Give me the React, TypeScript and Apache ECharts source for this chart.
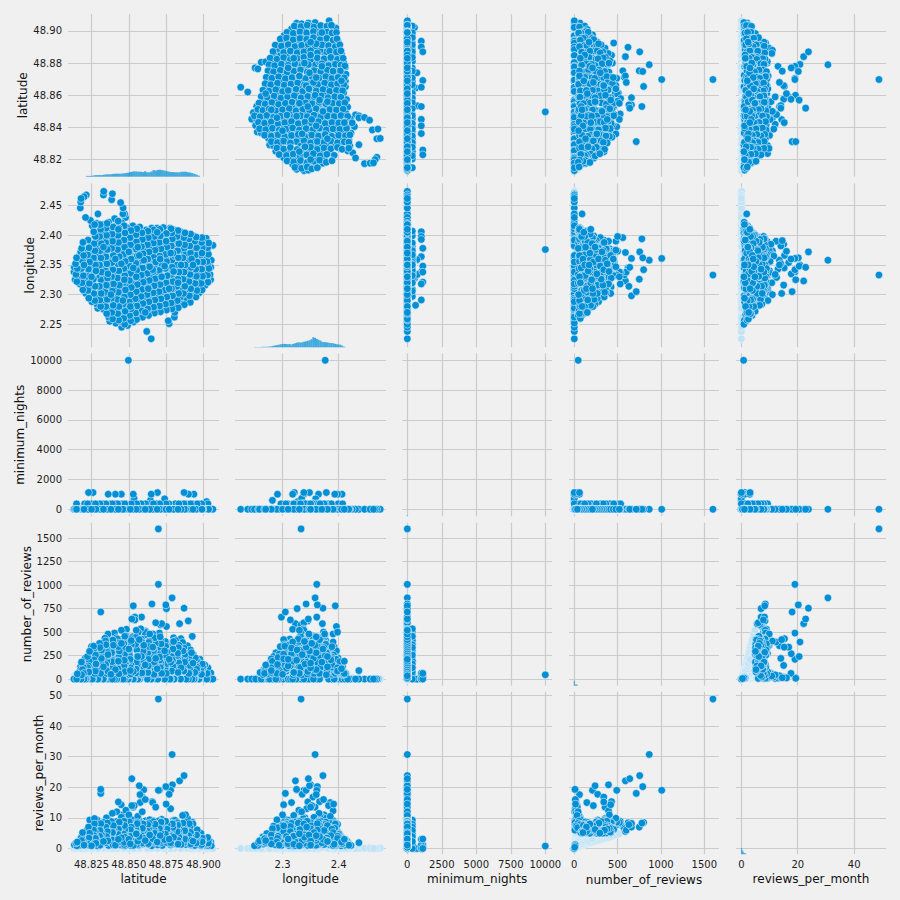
import React, { useEffect, useRef } from "react";
import * as echarts from "echarts";

const variables = ["latitude", "longitude", "minimum_nights", "number_of_reviews", "reviews_per_month"];

const latitude = [
  48.9048,48.9044,48.9049,48.9052,48.9063,
  48.9012,48.9021,48.9008,48.9030,48.9016,48.9026,48.9009,48.9022,48.9018,
  48.8972,48.8965,48.8980,48.8968,48.8976,48.8961,48.8974,48.8966,48.8979,48.8970,
  48.8930,48.8938,48.8925,48.8942,48.8931,48.8922,48.8936,48.8925,48.8940,48.8924,48.8933,
  48.8885,48.8892,48.8880,48.8896,48.8900,48.8898,48.8887,48.8893,48.8882,48.8890,48.8884,
  48.8852,48.8846,48.8858,48.8840,48.8855,48.8849,48.8860,48.8870,48.8870,48.8851,48.8847,48.8856,
  48.8805,48.8808,48.8812,48.8803,48.8815,48.8807,48.8800,48.8792,48.8790,48.8804,48.8814,48.8799,48.8810,48.8802,
  48.8770,48.8764,48.8775,48.8768,48.8781,48.8772,48.8752,48.8780,48.8770,48.8748,48.8766,48.8779,48.8752,48.8769,48.8776,
  48.8735,48.8728,48.8741,48.8724,48.8732,48.8712,48.8705,48.8740,48.8720,48.8726,48.8737,48.8722,48.8731,
  48.8695,48.8688,48.8701,48.8684,48.8692,48.8698,48.8680,48.8698,48.8686,48.8699,48.8682,48.8694,48.8689,
  48.8650,48.8652,48.8645,48.8658,48.8641,48.8650,48.8660,48.8655,48.8643,48.8656,48.8648,48.8661,48.8644,48.8653,
  48.8620,48.8615,48.8608,48.8622,48.8605,48.8618,48.8600,48.8612,48.8590,48.8575,48.8610,48.8624,48.8606,48.8616,
  48.8572,48.8565,48.8578,48.8560,48.8574,48.8568,48.8580,48.8570,48.8585,48.8563,48.8576,48.8569,48.8561,48.8573,
  48.8532,48.8525,48.8538,48.8522,48.8540,48.8540,48.8528,48.8535,48.8520,48.8530,48.8524,48.8536,48.8530,48.8530,48.8527,
  48.8492,48.8486,48.8495,48.8482,48.8498,48.8488,48.8484,48.8493,48.8496,48.8481,48.8490,48.8497,48.8485,48.8494,48.8487,48.8478,48.8472,
  48.8452,48.8447,48.8456,48.8441,48.8458,48.8449,48.8444,48.8455,48.8450,48.8460,48.8443,48.8457,48.8448,48.8450,48.8442,48.8453,48.8460,48.8462,48.8445,
  48.8412,48.8406,48.8418,48.8402,48.8415,48.8409,48.8420,48.8404,48.8430,48.8400,48.8417,48.8408,48.8410,48.8403,48.8416,48.8405,48.8385,
  48.8372,48.8366,48.8378,48.8362,48.8375,48.8369,48.8380,48.8364,48.8371,48.8377,48.8360,48.8373,48.8368,48.8379,48.8365,48.8390,
  48.8332,48.8326,48.8338,48.8322,48.8335,48.8329,48.8340,48.8324,48.8336,48.8330,48.8321,48.8337,48.8327,48.8330,48.8332,
  48.8292,48.8286,48.8298,48.8312,48.8312,48.8283,48.8295,48.8288,48.8300,48.8284,48.8297,48.8290,48.8285,48.8293,
  48.8252,48.8246,48.8238,48.8242,48.8250,48.8260,48.8245,48.8253,48.8248,48.8255,48.8243,48.8215,
  48.8212,48.8206,48.8218,48.8230,48.8209,48.8216,48.8204,48.8210,48.8200,
  48.8172,48.8166,48.8176,48.8164,48.8170,48.8178,48.8175,48.8178,48.8180,
  48.8140,48.8132,48.8135,48.8150,
  48.8660,48.8520,48.8780,48.8420,48.8880,48.8350,48.8610,48.8720,48.8480,48.8560,48.8810,48.8390,48.8680,48.8270,48.8930,48.8500,48.8750,48.8450,48.8640,48.8590,48.8330,48.8860,48.8540,48.8700,48.8300,48.8830,48.8430,48.8620,48.8790,48.8510,
  48.9030,48.9027,48.9036,48.9024,48.9033,48.9028,48.9035,
  48.8991,48.8985,48.8994,48.8988,48.8996,48.8983,48.8992,48.8987,48.8990,
  48.8950,48.8956,48.8944,48.8953,48.8948,48.8958,48.8946,48.8954,48.8942,48.8951,
  48.8912,48.8906,48.8915,48.8903,48.8910,48.8917,48.8905,48.8913,48.8908,48.8902,48.8914,
  48.8872,48.8866,48.8875,48.8864,48.8870,48.8877,48.8863,48.8874,48.8868,48.8876,
  48.8831,48.8825,48.8834,48.8822,48.8829,48.8836,48.8824,48.8832,48.8827,48.8835,48.8823,48.8830,
  48.8790,48.8784,48.8793,48.8786,48.8795,48.8782,48.8791,48.8796,48.8785,48.8792,48.8788,48.8783,
  48.8752,48.8746,48.8755,48.8743,48.8750,48.8757,48.8744,48.8753,48.8747,48.8756,48.8745,48.8751,
  48.8712,48.8706,48.8715,48.8703,48.8710,48.8717,48.8704,48.8713,48.8707,48.8716,48.8705,48.8711,48.8708,
  48.8672,48.8666,48.8675,48.8663,48.8670,48.8677,48.8664,48.8673,48.8667,48.8676,48.8665,48.8671,48.8668,
  48.8632,48.8626,48.8635,48.8623,48.8630,48.8637,48.8624,48.8633,48.8627,48.8636,48.8625,48.8631,48.8628,
  48.8592,48.8586,48.8595,48.8583,48.8590,48.8597,48.8584,48.8593,48.8587,48.8596,48.8585,48.8591,48.8588,
  48.8552,48.8546,48.8555,48.8543,48.8550,48.8557,48.8544,48.8553,48.8547,48.8556,48.8545,48.8551,48.8548,48.8554,
  48.8512,48.8506,48.8515,48.8503,48.8510,48.8517,48.8504,48.8513,48.8507,48.8516,48.8505,48.8511,48.8508,48.8514,
  48.8472,48.8466,48.8475,48.8463,48.8470,48.8477,48.8464,48.8473,48.8467,48.8476,48.8465,48.8471,48.8468,48.8474,48.8469,
  48.8432,48.8426,48.8435,48.8423,48.8430,48.8437,48.8424,48.8433,48.8427,48.8436,48.8425,48.8431,48.8428,48.8434,48.8429,
  48.8392,48.8386,48.8395,48.8383,48.8390,48.8397,48.8384,48.8393,48.8387,48.8396,48.8385,48.8391,48.8388,48.8394,
  48.8352,48.8346,48.8355,48.8343,48.8350,48.8357,48.8344,48.8353,48.8347,48.8356,48.8345,48.8351,48.8348,48.8354,
  48.8312,48.8306,48.8315,48.8303,48.8317,48.8304,48.8313,48.8307,48.8316,48.8305,48.8311,48.8308,
  48.8272,48.8266,48.8275,48.8263,48.8270,48.8277,48.8264,48.8273,48.8267,48.8276,48.8265,48.8271,
  48.8232,48.8226,48.8235,48.8223,48.8230,48.8237,48.8224,48.8233,48.8227,
  48.8192,48.8186,48.8195,48.8183,48.8190,48.8197,48.8184,48.8193,
  48.8152,48.8146,48.8155,48.8143,48.8150,
  48.872,48.853,48.841,48.885,48.863,48.828,48.878,48.847,48.868,48.856,48.836,48.892,48.874,48.85,48.866,48.86,48.845,48.88,48.857,48.871,48.864,48.855,48.846,48.875,48.838,48.883,48.851,48.869,48.833,48.861,48.893,48.843,48.877,48.825,48.899,48.82,
];

const longitude = [
  2.325,2.334,2.346,2.358,2.383,
  2.316,2.327,2.338,2.350,2.362,2.373,2.382,2.390,2.395,
  2.303,2.313,2.322,2.333,2.344,2.355,2.366,2.376,2.385,2.393,
  2.298,2.309,2.320,2.331,2.342,2.353,2.364,2.375,2.384,2.392,2.399,
  2.292,2.302,2.314,2.326,2.338,2.345,2.360,2.371,2.382,2.392,2.401,
  2.285,2.296,2.308,2.323,2.332,2.343,2.355,2.372,2.378,2.389,2.400,2.405,
  2.262,2.270,2.283,2.294,2.306,2.318,2.330,2.350,2.358,2.366,2.377,2.388,2.399,2.409,
  2.251,2.256,2.279,2.290,2.302,2.314,2.326,2.338,2.335,2.362,2.374,2.385,2.396,2.407,2.412,
  2.277,2.288,2.299,2.311,2.323,2.333,2.342,2.359,2.371,2.383,2.394,2.404,2.413,
  2.274,2.285,2.297,2.309,2.321,2.333,2.338,2.361,2.369,2.381,2.392,2.403,2.412,
  2.2255,2.271,2.282,2.294,2.306,2.318,2.330,2.342,2.354,2.366,2.378,2.390,2.401,2.412,
  2.238,2.268,2.279,2.291,2.303,2.315,2.325,2.339,2.354,2.360,2.375,2.387,2.398,2.409,
  2.266,2.277,2.289,2.301,2.313,2.325,2.337,2.348,2.361,2.373,2.385,2.396,2.407,2.414,
  2.254,2.263,2.274,2.286,2.298,2.314,2.322,2.334,2.346,2.358,2.370,2.382,2.394,2.406,2.416,
  2.248,2.258,2.270,2.282,2.294,2.306,2.318,2.330,2.342,2.354,2.366,2.376,2.390,2.402,2.413,2.430,2.436,
  2.245,2.254,2.266,2.278,2.290,2.302,2.314,2.326,2.338,2.350,2.362,2.374,2.386,2.398,2.410,2.421,2.436,2.446,2.455,
  2.252,2.262,2.273,2.285,2.297,2.309,2.321,2.333,2.345,2.357,2.369,2.381,2.393,2.405,2.417,2.428,2.460,
  2.255,2.262,2.279,2.291,2.303,2.315,2.327,2.339,2.351,2.363,2.375,2.387,2.399,2.411,2.422,2.470,
  2.275,2.286,2.298,2.310,2.322,2.334,2.346,2.358,2.370,2.382,2.394,2.406,2.418,2.468,2.474,
  2.277,2.284,2.296,2.305,2.325,2.332,2.344,2.356,2.368,2.380,2.392,2.404,2.420,2.436,
  2.288,2.300,2.312,2.324,2.336,2.348,2.360,2.372,2.384,2.416,2.425,2.468,
  2.302,2.314,2.326,2.338,2.350,2.362,2.374,2.430,2.465,
  2.318,2.330,2.342,2.354,2.366,2.372,2.446,2.456,2.462,
  2.325,2.338,2.346,2.355,
  2.316,2.352,2.343,2.331,2.367,2.340,2.373,2.305,2.329,2.385,2.311,2.365,2.350,2.337,2.346,2.300,2.391,2.356,2.290,2.334,2.312,2.320,2.378,2.364,2.351,2.384,2.322,2.344,2.330,2.368,
  2.321,2.333,2.344,2.356,2.368,2.379,2.387,
  2.308,2.319,2.331,2.343,2.355,2.367,2.379,2.388,2.396,
  2.296,2.307,2.319,2.331,2.343,2.355,2.367,2.379,2.390,2.397,
  2.287,2.298,2.310,2.322,2.334,2.346,2.358,2.370,2.382,2.394,2.402,
  2.283,2.302,2.314,2.326,2.338,2.350,2.362,2.384,2.396,2.404,
  2.278,2.290,2.302,2.314,2.326,2.338,2.350,2.362,2.374,2.386,2.398,2.408,
  2.276,2.286,2.298,2.310,2.322,2.334,2.346,2.370,2.382,2.394,2.404,2.411,
  2.274,2.284,2.296,2.308,2.320,2.332,2.344,2.356,2.368,2.380,2.391,2.403,
  2.271,2.281,2.293,2.305,2.317,2.329,2.341,2.353,2.365,2.377,2.388,2.399,2.410,
  2.269,2.279,2.291,2.303,2.315,2.327,2.339,2.351,2.363,2.375,2.387,2.398,2.409,
  2.265,2.276,2.288,2.300,2.312,2.324,2.336,2.348,2.360,2.372,2.384,2.396,2.407,
  2.262,2.273,2.285,2.297,2.309,2.321,2.333,2.345,2.357,2.369,2.381,2.393,2.404,
  2.258,2.269,2.281,2.293,2.305,2.317,2.329,2.341,2.353,2.365,2.377,2.389,2.401,2.411,
  2.256,2.265,2.276,2.288,2.300,2.312,2.324,2.336,2.348,2.360,2.372,2.384,2.396,2.408,
  2.250,2.260,2.272,2.284,2.296,2.308,2.320,2.332,2.344,2.356,2.368,2.380,2.392,2.404,2.416,
  2.257,2.268,2.280,2.292,2.304,2.316,2.328,2.340,2.352,2.364,2.376,2.388,2.400,2.412,2.424,
  2.259,2.270,2.282,2.294,2.306,2.318,2.330,2.342,2.354,2.366,2.378,2.390,2.402,2.414,
  2.268,2.280,2.292,2.304,2.316,2.328,2.340,2.352,2.364,2.376,2.388,2.400,2.412,2.420,
  2.280,2.291,2.302,2.314,2.338,2.350,2.362,2.374,2.386,2.398,2.410,2.418,
  2.290,2.302,2.314,2.326,2.338,2.350,2.362,2.374,2.386,2.398,2.406,2.418,
  2.294,2.307,2.319,2.331,2.343,2.355,2.367,2.379,2.392,
  2.308,2.320,2.332,2.344,2.356,2.366,2.378,2.388,
  2.322,2.334,2.344,2.352,2.362,
  2.33,2.345,2.36,2.35,2.31,2.34,2.37,2.325,2.355,2.38,2.335,2.36,2.348,2.372,2.342,2.358,2.352,2.339,2.366,2.36,2.347,2.33,2.29,2.39,2.3,2.32,2.28,2.405,2.38,2.27,2.35,2.41,2.31,2.33,2.37,2.35,
];

const minimumNights = [
  2,1,3,1,5,
  1,520,2,365,3,1,7,2,1,
  3,1,2,5,1,30,365,2,1,4,
  1,2,365,3,1,2,1015,4,1,60,2,
  2,1,5,1,1015,2,3,1,365,1,7,
  1,3,2,1,30,1,365,1,1124,2,1,4,
  1,2,1,5,365,1,2,1,1,3,1,2,365,1,
  1,1,3,1,2,1,1,2,1,1,30,1,2,365,5,
  2,1,1,3,1,1,2,700,1,4,1,2,1,
  1,3,1,1,1124,1,1,1,365,2,1,1,3,
  2,1,600,4,365,1015,1,1,2,1,30,1,2,1,
  1,1,3,1,1,2,1,365,1,1,2,1,1,3,
  1,2,1,1,3,1,365,1,1,2,1,5,1,2,
  3,1,1,2,1,1,365,730,1,1,1,2,1,1015,1,
  1,1,2,1,1,5,1,2,1,365,1,10000,1,2,1,1,3,
  1,2,1,1,3,1,1,365,1,1,2,1,1,1015,1,4,1,1,2,
  1,1,1,2,1,365,1,1,3,1,1,2,1015,1,1,1,2,
  2,1,1,1015,1,1,2,1,1,365,1,1,3,1,1,1,
  1,1,3,1,1,365,1,2,1,1,1,1,2,1,1,
  1,2,1,1,1,3,1,1,365,1,2,1,1,1,
  1,1,1,2,365,1124,1,2,1,1,1,3,
  1,2,1,1124,1,1,365,1,1,
  1,1,3,1,2,1,1,1,1,
  1,2,1,365,
  1,1,2,1,1,1,3,1,1,1,2,1,1,1,1,1,2,1,1,1,1,3,1,1,1,1,2,1,1,1,
  1,2,1,1,3,1,2,
  1,1,2,365,1,1,3,1,2,
  2,1,1,3,1,365,1,2,1,1,
  1,1,2,1,3,1,1,365,1,2,1,
  1,2,1,1,365,1,1,3,1,1,
  2,1,1,3,1,1,2,1,1,365,1,1,
  1,1,3,1,2,1,1,1,4,1,1,2,
  1,2,1,1,365,1,3,1,1,2,1,1,
  1,1,2,1,1,3,1,1,365,1,2,1,1,
  2,1,1,1,3,1,1,2,1,1,365,1,1,
  1,3,1,1,2,1,1,1,3,1,1,2,1,
  1,1,1,365,1,2,1,1,1,3,1,1,2,
  2,1,1,1,3,1,1,365,1,1,2,1,1,1,
  1,1,3,1,1,2,1,1,1,365,1,1,3,1,
  1,2,1,1,1,3,1,365,1,1,2,1,1,1,1,
  1,1,1,3,1,1,2,1,1,1,365,1,1,2,1,
  2,1,1,1,365,1,1,3,1,1,2,1,1,1,
  1,1,2,1,1,3,1,1,365,1,1,2,1,1,
  1,3,1,1,2,1,1,365,1,1,2,1,
  1,1,2,1,1,365,1,3,1,1,1,2,
  1,2,1,1,3,1,365,1,1,
  1,1,2,1,1,3,1,1,
  1,2,1,1,1,
  1,1,2,1,1,1,3,1,1,1,2,1,1,1,1,1,2,1,1,1,1,3,1,1,1,1,2,1,1,1,1,1,2,1,1,1,
];

const numberOfReviews = [
  0,12,65,31,0,
  5,0,88,120,0,46,150,0,9,
  0,35,170,0,210,95,48,180,22,0,
  14,140,250,0,265,60,0,455,190,0,8,
  0,55,310,130,0,620,340,355,75,120,0,
  20,0,260,590,120,430,390,755,3,285,0,42,
  0,6,130,0,280,150,440,395,865,90,410,350,160,25,
  1,0,95,180,0,320,750,210,270,790,360,70,560,130,0,
  0,100,240,30,370,578,490,0,590,300,185,55,7,
  0,155,330,0,30,1600,600,1009,415,125,340,0,65,
  0,70,0,205,300,0,445,800,110,430,265,480,90,12,
  0,40,165,0,350,125,15,510,340,60,470,0,500,30,
  0,110,270,0,425,60,535,240,660,500,145,300,0,20,
  0,30,85,200,660,630,390,0,640,355,450,220,780,0,40,
  5,0,60,190,0,385,530,240,0,460,140,45,395,175,55,3,0,
  0,18,95,175,40,420,215,300,520,360,0,405,260,30,70,0,90,0,2,
  0,45,0,120,310,250,0,490,340,150,440,285,60,160,25,0,0,
  10,0,68,0,365,105,415,0,330,190,480,35,225,0,12,0,
  0,80,145,0,325,260,435,90,350,0,200,50,0,0,1,
  0,25,110,715,8,320,0,345,245,130,0,15,0,0,
  0,135,270,0,345,0,95,250,40,0,5,0,
  40,0,135,60,225,0,60,0,0,
  0,20,130,70,0,105,1,0,0,
  10,0,35,0,
  20,30,10,5,40,70,12,28,15,60,8,22,35,18,6,50,14,25,75,45,9,32,16,55,11,42,7,65,24,38,
  8,25,40,60,22,15,5,
  30,45,110,75,135,90,160,50,15,
  12,85,100,200,150,125,225,105,70,20,
  20,65,160,240,120,290,175,310,145,60,18,
  35,95,220,130,330,265,300,180,85,30,
  30,75,150,300,205,360,250,335,275,170,110,25,
  40,80,190,345,140,290,385,320,240,200,85,20,
  35,115,215,120,370,285,400,225,350,165,255,60,
  15,60,170,265,395,130,340,420,200,375,235,120,40,
  45,125,90,295,180,380,260,440,305,155,335,180,50,
  25,90,230,145,360,405,220,390,275,345,100,210,70,
  15,55,190,310,115,280,425,170,395,300,240,130,65,
  10,65,130,215,335,160,400,310,445,245,370,180,105,30,
  20,45,150,280,105,365,255,430,190,410,315,120,210,55,
  12,70,125,240,345,180,295,455,375,165,330,260,140,80,25,
  25,90,215,135,350,270,425,230,385,300,195,345,110,55,15,
  35,105,190,265,160,395,310,415,205,360,280,125,185,40,
  60,120,230,145,330,285,405,190,365,250,155,90,30,10,
  70,155,265,205,310,380,175,335,220,120,60,15,
  60,215,140,310,180,255,350,135,205,85,40,10,
  20,115,190,240,140,295,120,75,30,
  35,70,125,180,100,60,45,10,
  10,30,55,20,5,
  60,80,100,120,140,160,180,200,220,240,260,280,300,320,340,360,380,400,420,450,480,520,30,40,50,70,90,110,130,150,170,190,210,25,15,35,
];

const reviewsPerMonth = [
  0,1.2,2.1,0.9,0,
  0.4,0,1.9,2.8,0,3.4,2.3,0,1.0,
  0,2.1,3.4,0,4.6,1.5,0.8,3.1,1.1,0,
  1.0,2.6,3.8,0,5.2,1.1,0,8.6,4.1,0,0.6,
  0,3.2,5.9,2.2,0,8.4,6.8,9.8,1.3,3.1,0,
  1.4,0,5.0,22.1,2.0,8.0,7.2,23.8,0.3,6.1,0,3.0,
  0,0.5,3.9,0,6.0,2.8,9.2,20.8,30.7,1.8,8.8,7.1,2.9,1.6,
  0.1,0,2.7,3.6,0,6.6,7.0,19.0,17.7,20.2,7.6,1.2,7.2,2.4,0,
  0,3.0,5.4,1.0,7.7,6.5,19.0,0,5.6,6.1,4.0,2.4,0.8,
  0,4.2,6.4,0,1.2,48.8,6.0,19.0,8.1,2.1,6.6,0,2.9,
  0,2.0,0,4.3,4.8,0,8.9,8.5,2.0,15.3,5.4,9.1,1.7,0.9,
  0,1.9,4.5,0,7.4,2.4,19.2,8.7,16.8,17.6,9.0,0,7.9,2.6,
  0,3.3,5.8,0,9.0,1.1,8.3,20.5,7.0,8.6,15.0,5.5,0,1.4,
  0,1.5,2.3,4.7,8.2,7.8,6.2,0,22.8,13.5,9.4,14.0,8.3,0,2.2,
  0.3,0,2.8,3.9,0,7.5,8.9,4.4,0,9.3,3.0,0.8,12.3,3.3,1.9,0.2,0,
  0,1.1,2.1,4.8,1.8,14.3,4.0,5.0,8.5,6.9,0,11.0,5.7,1.2,2.6,0,1.9,0,0.3,
  0,2.3,0,2.6,6.3,4.2,0,8.6,15.2,2.9,8.8,6.0,3.0,3.5,1.6,0,0,
  0.8,0,1.7,0,7.0,2.3,8.0,0,6.3,3.6,9.9,2.0,4.4,0,1.0,0,
  0,2.9,3.2,0,5.6,5.0,8.2,2.3,6.7,0,4.5,1.9,0,0,0.1,
  0,1.4,2.5,18.0,19.3,5.2,0,9.3,4.3,2.8,0,0.9,0,0,
  0,3.1,9.3,0,6.1,0,1.9,4.8,2.1,0,0.3,0,
  2.0,0,3.0,3.1,4.6,0,1.3,0,0,
  0,1.0,3.3,2.2,0,2.9,0.1,0,0,
  0.6,0,1.2,0,
  15,14,13,12,11,10,16,9.5,12.5,10.5,9.2,11.5,13.5,9.8,8,11,14.5,10.2,9.4,12,8.5,10.8,7.5,9,6.5,8.2,6,7.8,7.2,6.8,
  1,0.7,2.4,1.5,1.8,3.6,0.5,
  2.4,1.0,3.0,4.1,2.2,5.0,3.4,1.3,2.2,
  2.8,4.3,1.4,3.0,5.6,6.1,3.2,4.4,1.0,1.8,
  1.2,3.6,5.1,3.9,7.0,4.6,8.1,5.3,2.6,4.2,1.5,
  2.2,4.7,6.2,7.4,4.7,3.4,8.3,5.8,1.9,3.0,
  1.7,5.2,2.9,6.4,4.9,5.4,8.4,4.6,7.6,3.7,5.5,2.7,
  2.6,2.2,6.8,5.6,8.2,4.4,7.3,6.9,3.8,8.0,4.1,1.6,
  3.1,3.7,4.2,8.5,6.4,7.7,5.5,3.8,8.9,6.3,4.7,2.0,
  1.8,3.5,7.0,4.4,6.1,8.7,7.3,5.2,3.4,8.6,6.5,3.0,2.3,
  3.3,2.4,5.7,6.9,3.2,5.8,8.8,4.9,6.4,7.9,4.2,5.0,2.0,
  1.4,4.2,3.9,7.1,5.3,8.3,4.0,6.3,7.8,4.9,5.6,3.1,3.2,
  1.5,2.7,6.0,4.6,7.8,5.7,8.4,3.3,5.9,8.0,4.3,6.6,1.8,
  1.3,2.9,5.3,3.6,6.2,8.5,7.2,4.8,6.6,8.1,5.0,3.4,4.8,2.4,
  1.0,3.8,3.0,6.7,7.6,5.1,8.7,6.8,4.5,7.0,3.9,6.1,4.0,1.7,
  0.9,2.6,4.9,7.3,5.8,3.5,8.0,6.2,8.9,3.0,4.7,7.5,2.8,3.7,1.3,
  2.0,3.4,4.1,6.8,6.0,8.2,5.7,3.9,7.4,8.6,3.6,6.3,4.6,2.2,0.8,
  2.5,2.0,6.5,3.7,7.9,6.0,8.8,5.4,4.2,7.5,4.8,5.2,2.8,1.2,
  3.2,4.4,4.0,7.5,5.0,8.3,6.6,3.3,7.0,5.5,2.6,3.9,1.9,0.7,
  2.7,3.3,5.6,7.2,4.5,6.4,8.1,5.9,3.5,4.0,2.1,1.1,
  2.1,7.4,5.5,4.8,8.0,3.9,6.0,2.9,4.2,3.3,1.6,0.6,
  1.1,3.9,4.1,6.2,7.0,5.0,2.3,3.4,1.4,
  1.6,4.0,2.4,3.6,5.2,1.5,2.6,0.7,
  0.9,1.8,2.1,0.8,0.4,
  0.8,1,1.1,1.3,1.6,1.7,1.9,2,2.2,2.4,2.5,2.7,2.9,3,3.2,3.4,3.5,3.7,3.9,4.2,4.4,4.8,0.5,0.6,0.7,1.4,1.5,2.1,2.3,2.6,2.4,3,3.1,0.9,0.4,1.1,
];

const columns = [latitude, longitude, minimumNights, numberOfReviews, reviewsPerMonth];

const latitudeHistogram = [80,80,80,120,160,160,160,160,200,240,240,240,280,300,300,300,300,340,360,400,460,500,540,520,500,500,460,540,440,440,520,660,620,680,700,660,620,560,520,460,460,440,440,440,500,500,500,440,420,360,280,200,100];
const longitudeHistogram = [30,30,30,30,50,50,50,60,80,100,150,180,220,260,300,320,340,320,300,320,280,340,400,460,500,480,500,560,600,650,700,800,1000,950,840,740,660,540,520,500,480,440,420,400,340,300,280,260,160,60];
const minimumNightsHistogram = [90];
const numberOfReviewsHistogram = [500,130,130,130];
const reviewsPerMonthHistogram = [620,360,220,110,90];

const histogramBins = [
  { start: 48.822, step: 0.00144, width: 2.3 },
  { start: 2.251, step: 0.00324, width: 1.9 },
  { start: 0, step: 70, width: 1 },
  { start: 0, step: 11, width: 1 },
  { start: 0.1, step: 0.36, width: 1 },
];
const histograms = [latitudeHistogram, longitudeHistogram, minimumNightsHistogram, numberOfReviewsHistogram, reviewsPerMonthHistogram];

const xTicks = [
  [48.825, 48.85, 48.875, 48.9],
  [2.3, 2.4],
  [0, 2500, 5000, 7500, 10000],
  [0, 500, 1000, 1500],
  [0, 20, 40],
];
const yTicks = [
  [48.82, 48.84, 48.86, 48.88, 48.9],
  [2.25, 2.3, 2.35, 2.4, 2.45],
  [0, 2000, 4000, 6000, 8000, 10000],
  [0, 250, 500, 750, 1000, 1250, 1500],
  [0, 10, 20, 30, 40, 50],
];
const xDigits = [3, 1, 0, 0, 0];
const yDigits = [2, 2, 0, 0, 0];
const xRanges = [
  [48.80926, 48.9104],
  [2.2153, 2.4843],
  [-362, 10485],
  [-61, 1670],
  [-1.9, 51.3],
];
const yRanges = [
  [48.8094, 48.9105],
  [2.2112, 2.4876],
  [-470, 10470],
  [-71, 1666],
  [-1.86, 51.2],
];

const colLefts = [68, 235, 402.3, 569, 736];
const colWidths = [151, 151, 149.7, 150, 150];
const rowTops = [14, 183.3, 353.3, 522.7, 691.7];
const rowHeights = [162.7, 164, 163, 163, 162.5];
const yNameGaps = [39, 32, 42, 35, 23];
const xNameGaps = [19, 19, 19, 20, 19];

const BG = "#f0f0f0";
const GRID = "#cbcbcb";
const BLUE = "#008fd5";
const PALE = "#c3e2f4";
const FONT = "DejaVu Sans";

const REV = 3;
const RPM = 4;

function isPale(c: number, r: number, i: number) {
  const has = (k: number) => c === k || r === k;
  const rev = numberOfReviews[i];
  const rpm = reviewsPerMonth[i];
  if (has(REV) && has(RPM)) return rev > 10 && rpm < 5;
  if (has(REV) && (has(0) || has(1))) return rev > 0 && rev < 45;
  if (has(RPM) && (has(0) || has(1))) return rpm < 0.9;
  return false;
}

function buildOption() {
  const grid: any[] = [];
  const xAxis: any[] = [];
  const yAxis: any[] = [];
  const series: any[] = [];
  const n = variables.length;
  const line = { show: true, lineStyle: { color: GRID, width: 1.2 } };

  for (let r = 0; r < n; r++) {
    for (let c = 0; c < n; c++) {
      const idx = r * n + c;
      grid.push({ left: colLefts[c], top: rowTops[r], width: colWidths[c], height: rowHeights[r], containLabel: false });
      xAxis.push({
        type: "value",
        gridIndex: idx,
        min: xRanges[c][0],
        max: xRanges[c][1],
        scale: true,
        axisLine: { show: false },
        axisTick: { show: false, customValues: xTicks[c] },
        splitLine: line,
        axisLabel: {
          show: r === n - 1,
          customValues: xTicks[c],
          formatter: (v: number) => v.toFixed(xDigits[c]),
          color: "#1c1c1c",
          fontFamily: FONT,
          fontSize: 10,
          margin: 5,
          hideOverlap: false,
        },
        name: r === n - 1 ? variables[c] : "",
        nameLocation: "middle",
        nameGap: xNameGaps[c],
        nameTextStyle: { color: "#111", fontFamily: FONT, fontSize: 12 },
      });
      yAxis.push({
        type: "value",
        gridIndex: idx,
        min: yRanges[r][0],
        max: yRanges[r][1],
        scale: true,
        axisLine: { show: false },
        axisTick: { show: false, customValues: yTicks[r] },
        splitLine: line,
        axisLabel: {
          show: c === 0,
          customValues: yTicks[r],
          formatter: (v: number) => v.toFixed(yDigits[r]),
          color: "#1c1c1c",
          fontFamily: FONT,
          fontSize: 10,
          margin: 6,
          hideOverlap: false,
        },
        name: c === 0 ? variables[r] : "",
        nameLocation: "middle",
        nameGap: yNameGaps[r],
        nameTextStyle: { color: "#111", fontFamily: FONT, fontSize: 12 },
      });
      if (r !== c) {
        const pale: number[][] = [];
        const solid: number[][] = [];
        columns[c].forEach((v, i) => {
          (isPale(c, r, i) ? pale : solid).push([v, columns[r][i]]);
        });
        series.push({
          type: "scatter",
          xAxisIndex: idx,
          yAxisIndex: idx,
          symbol: "circle",
          symbolSize: 7.6,
          silent: true,
          itemStyle: { color: PALE, borderColor: "#e8f4fb", borderWidth: 0.6, opacity: 1 },
          data: pale,
        });
        series.push({
          type: "scatter",
          xAxisIndex: idx,
          yAxisIndex: idx,
          symbol: "circle",
          symbolSize: 7.6,
          silent: true,
          itemStyle: { color: BLUE, borderColor: "#e8f4fb", borderWidth: 0.6, opacity: 1 },
          data: solid,
        });
      }
    }
  }

  for (let d = 0; d < n; d++) {
    const idx = d * n + d;
    const axisIndex = yAxis.length;
    yAxis.push({ type: "value", gridIndex: idx, show: false, min: 0, max: 16300, splitLine: { show: false } });
    const bin = histogramBins[d];
    series.push({
      type: "bar",
      xAxisIndex: idx,
      yAxisIndex: axisIndex,
      barWidth: bin.width,
      silent: true,
      itemStyle: { color: BLUE, opacity: 0.72 },
      data: histograms[d].map((h, i) => [bin.start + i * bin.step, h]),
    });
  }

  return {
    animation: false,
    backgroundColor: BG,
    tooltip: { show: false },
    grid,
    xAxis,
    yAxis,
    series,
  };
}

export default function App() {
  const ref = useRef<HTMLDivElement>(null);
  useEffect(() => {
    document.body.style.margin = "0";
    const chart = echarts.init(ref.current!, undefined, { renderer: "svg", width: 900, height: 900 });
    chart.setOption(buildOption());
    return () => chart.dispose();
  }, []);
  return <div ref={ref} style={{ width: 900, height: 900, background: BG }} />;
}
